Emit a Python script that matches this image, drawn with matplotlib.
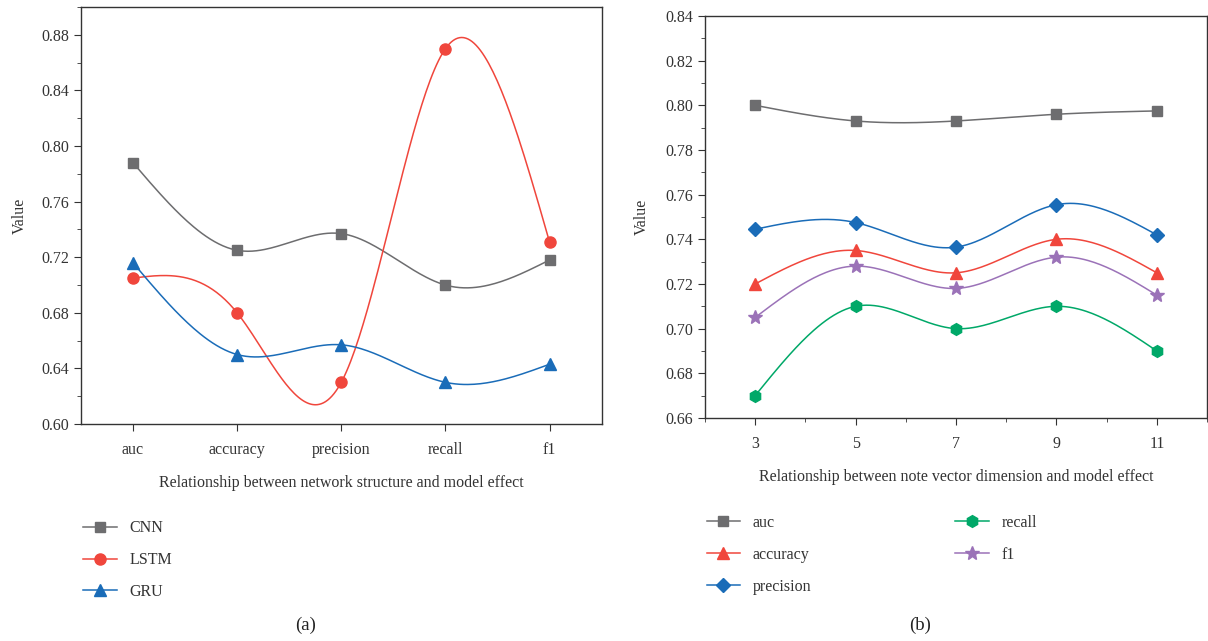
import numpy as np
import matplotlib
matplotlib.use("Agg")
import matplotlib.pyplot as plt
from matplotlib.ticker import MultipleLocator

plt.rcParams['font.family'] = ['Liberation Serif', 'DejaVu Serif']
plt.rcParams['font.size'] = 11.5

# panel (a) data
metrics = ["auc", "accuracy", "precision", "recall", "f1"]
cnn = [0.788, 0.725, 0.737, 0.700, 0.718]
lstm = [0.705, 0.680, 0.630, 0.870, 0.731]
gru = [0.716, 0.650, 0.657, 0.630, 0.643]

# panel (b) data
dims = [3, 5, 7, 9, 11]
auc_b = [0.800, 0.793, 0.793, 0.796, 0.7975]
accuracy_b = [0.720, 0.735, 0.725, 0.740, 0.725]
precision_b = [0.7445, 0.7475, 0.7365, 0.7555, 0.742]
recall_b = [0.670, 0.710, 0.700, 0.710, 0.690]
f1_b = [0.705, 0.728, 0.718, 0.732, 0.715]

GRAY = "#6d6d6f"
RED = "#f0463c"
BLUE = "#1a6cb8"
GREEN = "#00a868"
PURPLE = "#9b72b8"


def spline(x, y, n=200):
    # natural cubic spline, just for drawing the smooth connecting line
    x = np.asarray(x, float)
    y = np.asarray(y, float)
    k = len(x)
    h = np.diff(x)
    A = np.zeros((k, k))
    b = np.zeros(k)
    A[0, 0] = A[-1, -1] = 1
    for i in range(1, k - 1):
        A[i, i - 1] = h[i - 1]
        A[i, i] = 2 * (h[i - 1] + h[i])
        A[i, i + 1] = h[i]
        b[i] = 3 * ((y[i + 1] - y[i]) / h[i] - (y[i] - y[i - 1]) / h[i - 1])
    c = np.linalg.solve(A, b)
    xs = np.linspace(x[0], x[-1], n)
    idx = np.clip(np.searchsorted(x, xs) - 1, 0, k - 2)
    dx = xs - x[idx]
    bb = (y[idx + 1] - y[idx]) / h[idx] - h[idx] * (2 * c[idx] + c[idx + 1]) / 3
    d = (c[idx + 1] - c[idx]) / (3 * h[idx])
    ys = y[idx] + bb * dx + c[idx] * dx ** 2 + d * dx ** 3
    return xs, ys


def draw(ax, x, y, color, marker, label, ms=8):
    xs, ys = spline(x, y)
    ax.plot(xs, ys, color=color, lw=1.1)
    ax.plot(x, y, ls="none", marker=marker, color=color, ms=ms)
    ax.plot([], [], color=color, lw=1.1, marker=marker, ms=ms, label=label)


fig = plt.figure(figsize=(12.08, 6.41), dpi=100)

# ---- (a)
ax1 = fig.add_axes([0.067, 0.3385, 0.431, 0.6505])
xa = np.arange(len(metrics))
draw(ax1, xa, cnn, GRAY, "s", "CNN", 7.5)
draw(ax1, xa, lstm, RED, "o", "LSTM", 8)
draw(ax1, xa, gru, BLUE, "^", "GRU", 8.5)
ax1.set_xlim(-0.5, 4.5)
ax1.set_ylim(0.60, 0.90)
ax1.set_xticks(xa)
ax1.set_xticklabels(metrics)
ax1.yaxis.set_major_locator(MultipleLocator(0.04))
ax1.yaxis.set_minor_locator(MultipleLocator(0.02))
ax1.yaxis.set_major_formatter(plt.FormatStrFormatter("%.2f"))
ax1.set_xlabel("Relationship between network structure and model effect", labelpad=12)
ax1.set_ylabel("Value", labelpad=10)

# ---- (b)
ax2 = fig.add_axes([0.5836, 0.348, 0.4156, 0.627])
draw(ax2, dims, auc_b, GRAY, "s", "auc", 7.5)
draw(ax2, dims, accuracy_b, RED, "^", "accuracy", 8.5)
draw(ax2, dims, precision_b, BLUE, "D", "precision", 7)
draw(ax2, dims, recall_b, GREEN, "h", "recall", 8.5)
draw(ax2, dims, f1_b, PURPLE, "*", "f1", 10)
ax2.set_xlim(2, 12)
ax2.set_ylim(0.66, 0.84)
ax2.set_xticks(dims)
ax2.xaxis.set_minor_locator(MultipleLocator(1))
ax2.yaxis.set_major_locator(MultipleLocator(0.02))
ax2.yaxis.set_minor_locator(MultipleLocator(0.01))
ax2.yaxis.set_major_formatter(plt.FormatStrFormatter("%.2f"))
ax2.set_xlabel("Relationship between note vector dimension and model effect", labelpad=12)
ax2.set_ylabel("Value", labelpad=11)

for ax in (ax1, ax2):
    for s in ax.spines.values():
        s.set_color("#333333")
        s.set_linewidth(1.0)
    ax.tick_params(which="major", direction="out", length=5, color="#333333", labelcolor="#333333")
    ax.tick_params(which="minor", direction="out", length=3, color="#333333")
    ax.tick_params(axis="x", pad=8)
    ax.xaxis.label.set_color("#333333")
    ax.yaxis.label.set_color("#333333")

# legends
h1, l1 = ax1.get_legend_handles_labels()
fig.legend(h1, l1, loc="upper left", bbox_to_anchor=(0.057, 0.211), frameon=False,
           handlelength=2.1, labelspacing=1.0, handletextpad=0.8, fontsize=11.5,
           labelcolor="#333333")
h2, l2 = ax2.get_legend_handles_labels()
fig.legend(h2, l2, loc="upper left", bbox_to_anchor=(0.573, 0.219), frameon=False,
           ncol=2, columnspacing=9, handlelength=2.1, labelspacing=1.0,
           handletextpad=0.8, fontsize=11.5, labelcolor="#333333")

fig.text(0.2533, 0.025, "(a)", ha="center", va="center", fontsize=13.5, color="#222222")
fig.text(0.7616, 0.025, "(b)", ha="center", va="center", fontsize=13.5, color="#222222")

fig.savefig("out.png", dpi=100)
